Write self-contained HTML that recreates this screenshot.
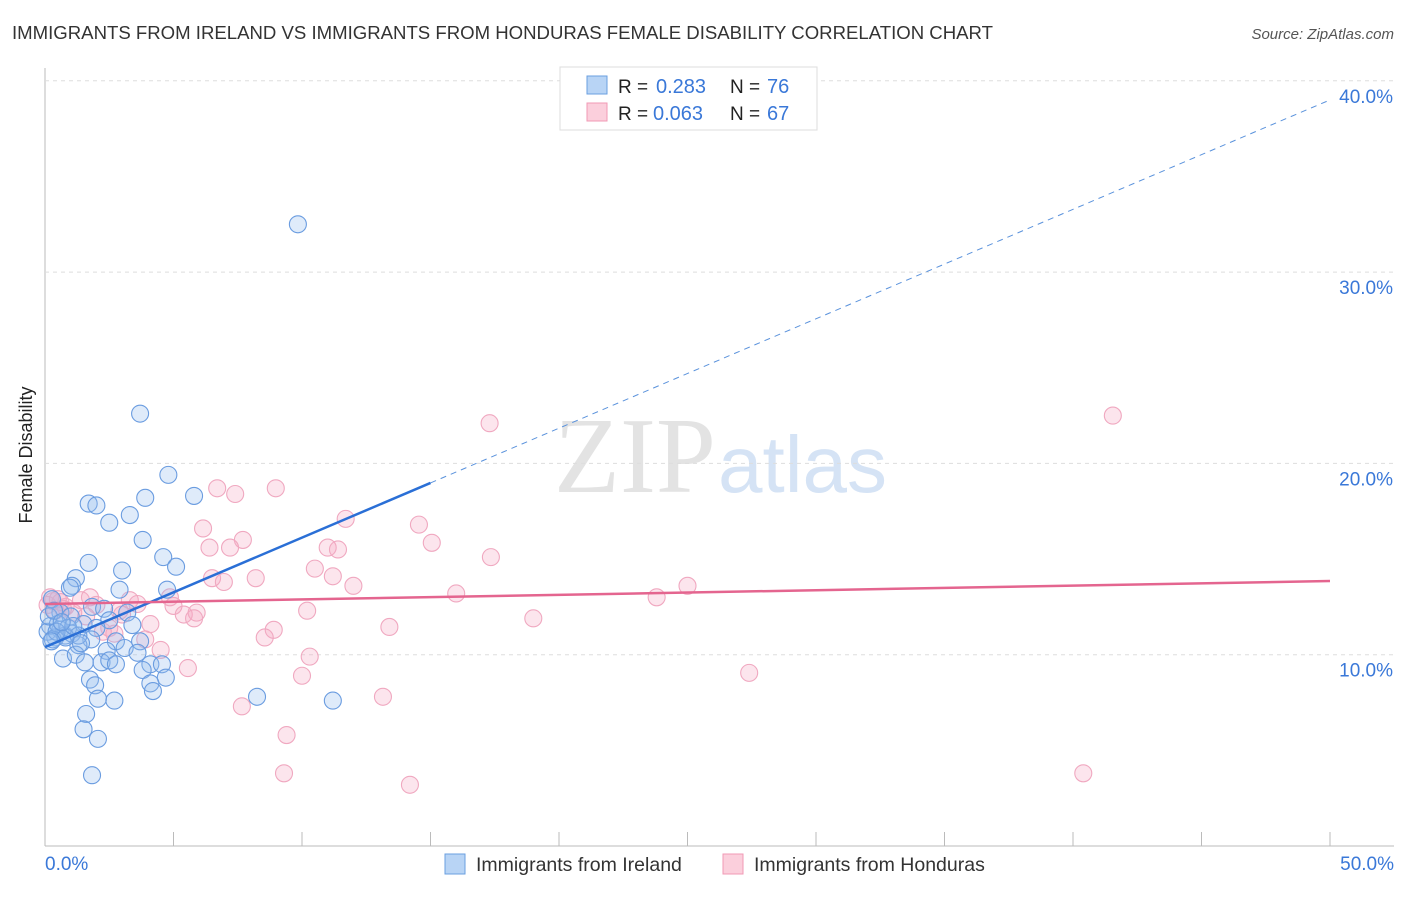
<!DOCTYPE html>
<html><head><meta charset="utf-8"><style>
body{margin:0;background:#fff;font-family:"Liberation Sans",sans-serif;}
</style></head><body>
<svg id="c" width="1406" height="892" xmlns="http://www.w3.org/2000/svg" style="font-family:'Liberation Sans',sans-serif">
<text x="12" y="39" font-size="18.6" fill="#333" textLength="981">IMMIGRANTS FROM IRELAND VS IMMIGRANTS FROM HONDURAS FEMALE DISABILITY CORRELATION CHART</text>
<text x="1394" y="39" font-size="15" fill="#555" font-style="italic" text-anchor="end">Source: ZipAtlas.com</text>
<text x="32" y="455" font-size="18" fill="#222" text-anchor="middle" transform="rotate(-90 32 455)">Female Disability</text>
<text x="716" y="492" font-size="108" fill="#e3e3e3" text-anchor="end" font-family="Liberation Serif">ZIP</text>
<text x="718" y="492" font-size="80" fill="#d5e3f5">atlas</text>
<g id="grid"></g><g id="pts"></g><g id="lines"></g>
<g>
<rect x="560" y="67" width="257" height="63" fill="#fff" stroke="#ddd"/>
<rect x="587" y="76" width="20" height="18" fill="#b8d4f5" stroke="#6a9fe0"/>
<rect x="587" y="103" width="20" height="18" fill="#fbcfdc" stroke="#f09ab5"/>
<text x="618" y="93" font-size="19" fill="#222">R =</text>
<text x="656" y="93" font-size="20" fill="#3a78d8">0.283</text>
<text x="730" y="93" font-size="19" fill="#222">N =</text>
<text x="767" y="93" font-size="20" fill="#3a78d8">76</text>
<text x="618" y="120" font-size="19" fill="#222">R =</text>
<text x="653" y="120" font-size="20" fill="#3a78d8">0.063</text>
<text x="730" y="120" font-size="19" fill="#222">N =</text>
<text x="767" y="120" font-size="20" fill="#3a78d8">67</text>
</g>
<g>
<rect x="445" y="854" width="20" height="20" fill="#b8d4f5" stroke="#6a9fe0"/>
<text x="476" y="871" font-size="19.5" fill="#333">Immigrants from Ireland</text>
<rect x="723" y="854" width="20" height="20" fill="#fbcfdc" stroke="#f09ab5"/>
<text x="754" y="871" font-size="19.5" fill="#333">Immigrants from Honduras</text>
</g>
</svg>
<script>
const xTicks=[0,5,10,15,20,25,30,35,40,45,50];
const yTicks=[10,20,30,40];
const yTickLabels=["10.0%","20.0%","30.0%","40.0%"];
const irelandX=[9.84,3.7,4.8,5.8,3.9,1.7,2.0,3.3,2.5,3.8,4.6,1.7,5.1,3.0,1.2,1.05,0.97,4.75,2.9,0.27,1.83,2.3,3.2,0.6,1.0,2.5,1.5,2.0,3.4,0.2,0.6,0.78,0.4,1.05,1.8,2.76,1.3,3.7,2.4,3.1,3.6,0.7,1.2,1.55,2.2,2.5,2.76,4.1,4.55,3.8,4.7,1.75,1.95,4.1,4.2,2.06,2.7,8.25,11.2,1.6,1.5,2.06,1.83,0.1,0.5,0.3,0.9,1.3,0.15,0.45,0.8,1.1,0.35,0.65,1.4,0.25];
const irelandY=[32.5,22.6,19.4,18.3,18.2,17.9,17.8,17.3,16.9,16.0,15.1,14.8,14.6,14.4,14.0,13.6,13.5,13.4,13.4,12.9,12.5,12.4,12.2,12.2,12.0,11.8,11.6,11.4,11.55,11.5,11.3,11.0,10.9,11.1,10.8,10.7,10.5,10.7,10.2,10.35,10.1,9.8,10.0,9.6,9.6,9.7,9.5,9.5,9.5,9.2,8.8,8.7,8.4,8.5,8.1,7.7,7.6,7.8,7.6,6.9,6.1,5.6,3.7,11.2,11.6,10.8,11.4,11.0,12.0,11.2,10.9,11.5,12.3,11.7,10.6,10.7];
const hondurasX=[17.3,41.55,6.7,7.4,8.98,11.7,14.55,6.15,15.05,7.7,6.4,7.2,11.0,11.4,17.35,10.5,6.5,6.96,8.2,11.2,12.0,25.0,16.0,23.8,0.2,0.6,1.4,1.75,3.3,4.86,3.6,5.0,2.9,5.4,5.9,10.2,5.8,19.0,4.1,2.5,2.25,13.4,8.9,8.55,3.9,4.5,10.3,5.56,10.0,27.4,13.15,7.66,9.4,9.3,14.2,40.4,0.1,0.4,0.8,1.1,0.3,0.7,2.0,3.0,1.6,0.5,2.7];
const hondurasY=[22.1,22.5,18.7,18.4,18.7,17.1,16.8,16.6,15.85,16.0,15.6,15.6,15.6,15.5,15.1,14.5,14.0,13.8,14.0,14.1,13.6,13.6,13.2,13.0,13.0,12.75,12.85,13.0,12.85,13.0,12.65,12.55,12.3,12.1,12.2,12.3,11.9,11.9,11.6,11.4,11.2,11.45,11.3,10.9,10.8,10.25,9.9,9.3,8.9,9.05,7.8,7.3,5.8,3.8,3.2,3.8,12.6,12.3,12.5,12.2,12.8,12.4,12.6,12.1,12.0,12.9,11.1];
const irelandTrend=[10.4,39.0];
const irelandSolidEnd=15.0;
const hondurasTrend=[12.65,13.85];
const NS="http://www.w3.org/2000/svg";
const X=v=>45+v/50*1285, Y=v=>846-v*19.13;
function mk(t,a,p){const e=document.createElementNS(NS,t);for(const k in a)e.setAttribute(k,a[k]);p.appendChild(e);return e;}
const grid=document.getElementById('grid');
mk('line',{x1:45,y1:68,x2:45,y2:846,stroke:'#bbb'},grid);
mk('line',{x1:45,y1:846,x2:1394,y2:846,stroke:'#bbb'},grid);
yTicks.forEach((t,i)=>{
 const g=mk('line',{x1:45,y1:Y(t),x2:1394,y2:Y(t),stroke:'#ddd','stroke-dasharray':'4,4'},grid);
 
 
 const l=mk('text',{x:1393,y:Y(t)+22,'font-size':19,fill:'#3a78d8','text-anchor':'end'},grid);
 l.textContent=yTickLabels[i];
 
 
});
xTicks.forEach(t=>{
 const k=mk('line',{x1:X(t),y1:832,x2:X(t),y2:846,stroke:'#bbb'},grid);
 
 
});
const xl=mk('text',{x:45,y:870,'font-size':19,fill:'#3a78d8'},grid);xl.textContent='0.0%';


const xr=mk('text',{x:1394,y:870,'font-size':19,fill:'#3a78d8','text-anchor':'end'},grid);xr.textContent='50.0%';


const pts=document.getElementById('pts');
hondurasX.forEach((x,i)=>{const c=mk('circle',{cx:X(x),cy:Y(hondurasY[i]),r:8.5,fill:'rgba(246,170,195,0.3)',stroke:'#f0a8c0','stroke-width':1.1},pts);
 
 });
irelandX.forEach((x,i)=>{const c=mk('circle',{cx:X(x),cy:Y(irelandY[i]),r:8.5,fill:'rgba(150,190,240,0.3)',stroke:'#6a9ce0','stroke-width':1.1},pts);
 
 });
const lines=document.getElementById('lines');
const iy=x=>irelandTrend[0]+(irelandTrend[1]-irelandTrend[0])*x/50;
const l1=mk('line',{x1:X(0),y1:Y(iy(0)),x2:X(irelandSolidEnd),y2:Y(iy(irelandSolidEnd)),stroke:'#2a6fd6','stroke-width':2.5},lines);


const l2=mk('line',{x1:X(irelandSolidEnd),y1:Y(iy(irelandSolidEnd)),x2:X(50),y2:Y(iy(50)),stroke:'#5a92dc','stroke-width':1,'stroke-dasharray':'6,5'},lines);


const l3=mk('line',{x1:X(0),y1:Y(hondurasTrend[0]),x2:X(50),y2:Y(hondurasTrend[1]),stroke:'#e4658f','stroke-width':2.5},lines);


</script>
</body></html>
